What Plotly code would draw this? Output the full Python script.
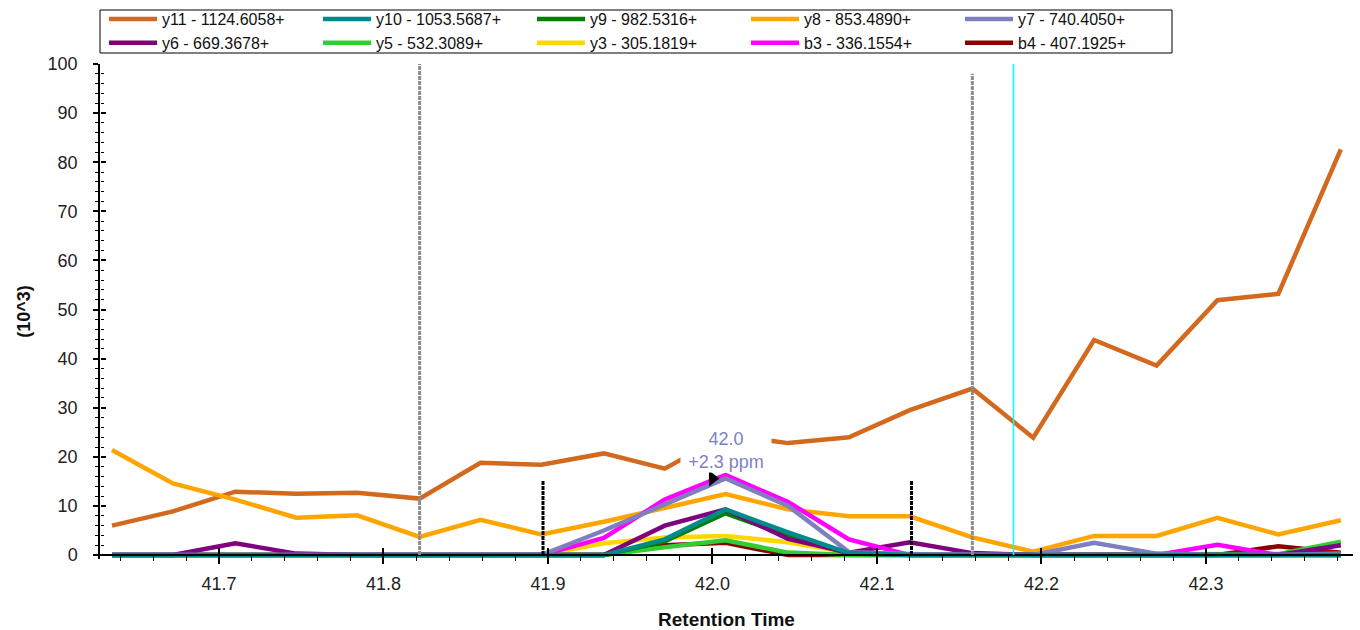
import plotly.graph_objects as go

# ---------------- data ----------------
rt = [41.635, 41.672, 41.710, 41.747, 41.784, 41.822, 41.859, 41.896, 41.934, 41.971,
      42.008, 42.046, 42.083, 42.120, 42.158, 42.195, 42.232, 42.270, 42.307, 42.344, 42.382]

y11 = [6.0, 8.9, 12.9, 12.5, 12.7, 11.5, 18.8, 18.4, 20.7, 17.6, 24.5,
       22.8, 24.0, 29.5, 33.9, 23.9, 43.8, 38.6, 51.9, 53.2, 82.6]
y10 = [0, 0, 0, 0, 0, 0, 0, 0, 0, 3.2, 9.3, 4.6, 0.4, 0, 0, 0, 0, 0, 0, 0, 0]
y9 = [0, 0, 0, 0, 0, 0, 0, 0, 0, 2.8, 8.5, 3.9, 0.3, 0, 0, 0, 0, 0, 0, 0, 0]
y8 = [21.4, 14.6, 11.3, 7.6, 8.1, 3.7, 7.2, 4.2, 6.8, 9.6, 12.4,
      9.3, 7.9, 7.9, 3.6, 0.7, 3.9, 3.9, 7.6, 4.2, 7.1]
y7 = [0, 0, 0, 0, 0, 0, 0, 0, 5.0, 10.3, 15.6, 10.0, 0.6, 0.2, 0, 0, 2.5, 0.3, 0, 0, 0.3]
y6 = [0, 0, 2.4, 0.3, 0, 0, 0, 0, 0, 6.0, 9.3, 3.3, 0.5, 2.6, 0.4, 0, 0, 0, 0, 0, 2.0]
y5 = [0, 0, 0, 0, 0, 0, 0, 0, 0, 1.6, 3.0, 0.5, 0, 0, 0, 0, 0, 0, 0, 0.2, 2.7]
y3 = [0, 0, 0, 0, 0, 0, 0, 0, 2.4, 3.6, 3.9, 2.6, 0.5, 0, 0, 0, 0, 0, 0, 0, 0]
b3 = [0, 0, 0, 0, 0, 0, 0, 0, 3.5, 11.3, 16.3, 10.8, 3.2, 0, 0, 0, 0, 0, 2.1, 0, 0]
b4 = [0, 0, 0, 0, 0, 0, 0, 0, 0, 2.0, 2.5, 0, 0, 0, 0, 0, 0, 0, 0, 1.8, 0.5]

labels = ["y11 - 1124.6058+", "y10 - 1053.5687+", "y9 - 982.5316+", "y8 - 853.4890+",
          "y7 - 740.4050+", "y6 - 669.3678+", "y5 - 532.3089+", "y3 - 305.1819+",
          "b3 - 336.1554+", "b4 - 407.1925+"]
values = [y11, y10, y9, y8, y7, y6, y5, y3, b3, b4]
colors = ["#D2691E", "#008B8B", "#008000", "#FFA500", "#7F7FC0",
          "#800080", "#32CD32", "#FFD700", "#FF00FF", "#8B0000"]

# peak boundaries / markers (retention times)
boundary_gray = [41.822, 42.158]
boundary_gray_top = [100, 98.0]
boundary_black = [41.897, 42.121]
boundary_black_top = 15.3
cursor_rt = 42.183
peak_rt_label = 42.0
peak_label = "42.0<br>+2.3 ppm"

# drawing order (bottom -> top)
draw_order = [0, 3, 9, 7, 6, 2, 5, 8, 4, 1]

FONT = "Liberation Sans, Arial, sans-serif"
W, H = 1360, 630
ML, MR, MT, MB = 100, 7, 64, 71
PW, PH = W - ML - MR, H - MT - MB
Y0, Y1 = -0.8, 100
X0, X1 = 41.6277, 42.3894
xpos = (0 - Y0) / (Y1 - Y0)

fig = go.Figure()
for i in draw_order:
    fig.add_trace(go.Scatter(
        x=rt, y=values[i], mode="lines", name=labels[i],
        line=dict(color=colors[i], width=4.5), legendrank=i + 1,
        hoverinfo="x+y+name"))

pk = max(range(len(y7)), key=lambda k: y7[k])

# peak apex pointer
fig.add_trace(go.Scatter(
    x=[peak_rt_label], y=[y7[pk]], mode="markers", showlegend=False,
    marker=dict(symbol="triangle-right", size=14, color="black"), hoverinfo="skip"))

# invisible trace to activate overlay axes (inside ticks)
fig.add_trace(go.Scatter(x=[rt[0]], y=[0], xaxis="x2", yaxis="y2", mode="markers",
                         marker=dict(opacity=0), showlegend=False, hoverinfo="skip"))

shapes = []
for xv, top in zip(boundary_gray, boundary_gray_top):
    shapes.append(dict(type="line", xref="x", yref="y", x0=xv, x1=xv, y0=0, y1=top,
                       line=dict(color="#8c8c8c", width=3, dash="4px,1px"), layer="above"))
for xv in boundary_black:
    shapes.append(dict(type="line", xref="x", yref="y", x0=xv, x1=xv, y0=0, y1=boundary_black_top,
                       line=dict(color="black", width=3, dash="4px,1px"), layer="above"))
shapes.append(dict(type="line", xref="x", yref="y", x0=cursor_rt, x1=cursor_rt, y0=0, y1=100,
                   line=dict(color="#00FFFF", width=1.5), layer="above"))
# legend frame (pixel box 100..1172 x 10..53)
shapes.append(dict(type="rect", xref="paper", yref="paper",
                   x0=(100 - ML) / PW, x1=(1172 - ML) / PW,
                   y0=1 + (MT - 53) / PH, y1=1 + (MT - 10) / PH,
                   line=dict(color="black", width=1), fillcolor="rgba(0,0,0,0)", layer="above"))

fig.add_annotation(x=rt[pk], y=y7[pk], xref="x", yref="y", text=peak_label,
                   showarrow=False, yanchor="bottom", yshift=5, width=90,
                   font=dict(family=FONT, size=18, color="#8080C8"),
                   bgcolor="white", borderpad=0)

tickfont = dict(family=FONT, size=18, color="#222222")
fig.update_layout(
    width=W, height=H,
    margin=dict(l=ML, r=MR, t=MT, b=MB, autoexpand=False),
    paper_bgcolor="white", plot_bgcolor="white",
    shapes=shapes,
    showlegend=True,
    legend=dict(orientation="h", x=104 / W, y=1 - 2 / H, xref="container", yref="container",
                xanchor="left", yanchor="top",
                borderwidth=0, bgcolor="rgba(0,0,0,0)",
                font=dict(family=FONT, size=16, color="#111111"),
                itemwidth=48, entrywidth=151, entrywidthmode="pixels",
                tracegroupgap=0, traceorder="normal"),
    xaxis=dict(range=[X0, X1], anchor="free", position=xpos, automargin=False,
               showline=True, linecolor="black", linewidth=1.5, showgrid=False, zeroline=False,
               ticks="outside", ticklen=8, tickwidth=1.5, tickcolor="black",
               dtick=0.1, tick0=41.7, tickformat=".1f", tickfont=tickfont, ticklabelstandoff=5,
               minor=dict(ticks="outside", ticklen=5, tickwidth=1, tickcolor="black", dtick=0.02, tick0=41.7),
               title=dict(text="<b>Retention Time</b>", font=dict(family=FONT, size=19, color="#111111"),
                          standoff=18)),
    xaxis2=dict(range=[X0, X1], overlaying="x", anchor="free", position=xpos, automargin=False,
                showline=False, showgrid=False, zeroline=False, showticklabels=False,
                ticks="inside", ticklen=7, tickwidth=1.5, tickcolor="black", dtick=0.1, tick0=41.7,
                minor=dict(ticks="inside", ticklen=1, tickwidth=1, tickcolor="black", dtick=0.02, tick0=41.7)),
    yaxis=dict(range=[Y0, Y1], automargin=False, showline=True, linecolor="black", linewidth=1.5, showgrid=False,
               zeroline=False, ticks="outside", ticklen=5, tickwidth=1.5, tickcolor="black",
               dtick=10, tick0=0, tickfont=tickfont, ticklabelstandoff=12,
               minor=dict(ticks="outside", ticklen=3, tickwidth=1, tickcolor="black", dtick=2, tick0=0),
               title=dict(text="<b>(10^3)</b>", font=dict(family=FONT, size=18, color="#111111"),
                          standoff=12)),
    yaxis2=dict(range=[Y0, Y1], overlaying="y", anchor="free", position=0, automargin=False,
                showline=False, showgrid=False, zeroline=False, showticklabels=False,
                ticks="inside", ticklen=5, tickwidth=1.5, tickcolor="black", dtick=10, tick0=0,
                minor=dict(ticks="inside", ticklen=3, tickwidth=1, tickcolor="black", dtick=2, tick0=0)),
)

fig.write_html("out.html", config={"displayModeBar": False},
               post_script="document.body.style.margin='0px';")
